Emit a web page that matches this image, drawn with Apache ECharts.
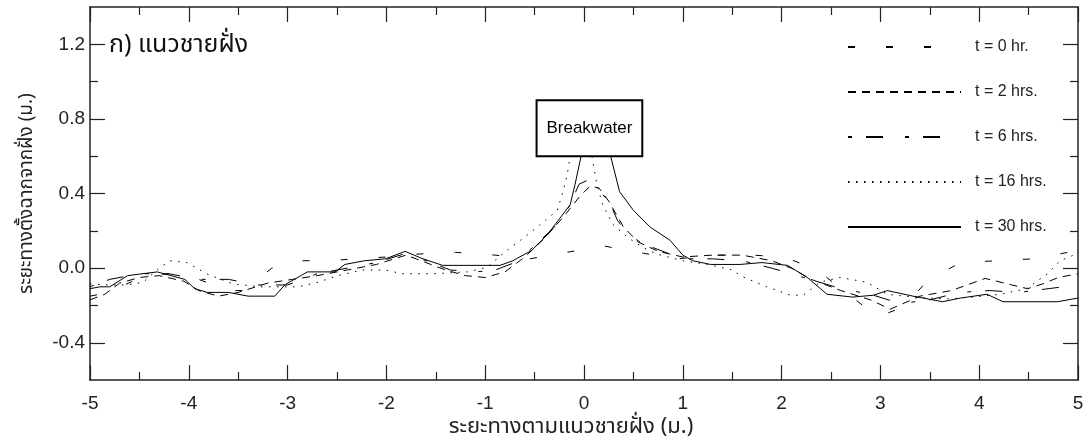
<!DOCTYPE html>
<html>
<head>
<meta charset="utf-8">
<script src="https://cdn.jsdelivr.net/npm/echarts@6/dist/echarts.min.js"></script>
<style>
  html, body { margin: 0; padding: 0; background: #fff; }
  #main { width: 1088px; height: 445px; }
</style>
</head>
<body>
<div id="main"></div>
<script>
  var font = "'Liberation Sans', Arial, 'Noto Sans', sans-serif";
  var thaiFont = "'Noto Sans Thai', 'Loma', 'Garuda', 'Liberation Sans', 'DejaVu Sans', sans-serif";

  // ระยะ x (ม.) , ระยะ y (ม.)
  var t0 = [[-5,-0.15],[-4.9,-0.14],[-4.65,-0.09],[-4.45,-0.04],[-4.2,-0.03],[-3.9,-0.06],[-3.6,-0.12],[-3.45,-0.12],
    [-3.16,0.0],[-2.9,0.04],[-2.6,0.04],[-2.3,0.05],[-2.0,0.06],[-1.7,0.075],[-1.3,0.085],[-0.9,0.07],[-0.55,0.05],
    [-0.17,0.085],[0.19,0.12],[0.6,0.08],[0.94,0.05],[1.38,0.07],[1.7,0.07],[2.03,0.06],[2.36,-0.01],[2.7,-0.15],
    [2.97,-0.26],[3.23,-0.21],[3.48,-0.065],[3.81,0.03],[4.18,0.04],[4.55,0.05],[4.9,0.085],[5,0.09]];

  var t2 = [[-5,-0.17],[-4.85,-0.14],[-4.7,-0.08],[-4.5,-0.05],[-4.3,-0.04],[-4.05,-0.07],[-3.9,-0.12],[-3.7,-0.15],
    [-3.5,-0.13],[-3.2,-0.08],[-2.95,-0.06],[-2.7,-0.04],[-2.4,-0.01],[-2.1,0.02],[-1.8,0.07],[-1.6,0.03],[-1.4,-0.01],
    [-1.2,-0.04],[-1.0,-0.05],[-0.8,-0.02],[-0.6,0.06],[-0.4,0.16],[-0.2,0.28],[-0.05,0.38],[0.06,0.44],[0.15,0.43],
    [0.25,0.36],[0.4,0.22],[0.55,0.14],[0.75,0.09],[1.0,0.06],[1.3,0.07],[1.6,0.07],[1.9,0.04],[2.1,0.0],[2.3,-0.06],
    [2.6,-0.12],[2.9,-0.17],[3.1,-0.22],[3.4,-0.15],[3.72,-0.12],[4.06,-0.055],[4.33,-0.09],[4.49,-0.11],[4.64,-0.085],
    [4.8,-0.05],[5,-0.03]];

  var t6 = [[-5,-0.1],[-4.8,-0.06],[-4.5,-0.03],[-4.2,-0.03],[-4.0,-0.05],[-3.9,-0.06],[-3.6,-0.06],[-3.3,-0.09],
    [-3.0,-0.09],[-2.7,-0.03],[-2.4,0.0],[-2.1,0.03],[-1.8,0.08],[-1.6,0.04],[-1.35,-0.01],[-1.1,-0.02],[-0.9,-0.01],
    [-0.7,0.03],[-0.5,0.12],[-0.3,0.22],[-0.15,0.33],[-0.05,0.45],[0.03,0.47],[0.15,0.42],[0.26,0.35],[0.34,0.255],
    [0.45,0.18],[0.6,0.13],[0.8,0.09],[1.0,0.05],[1.3,0.05],[1.6,0.04],[1.9,0.0],[2.1,-0.03],[2.35,-0.07],[2.6,-0.11],
    [2.9,-0.14],[3.2,-0.19],[3.5,-0.17],[3.8,-0.13],[4.1,-0.12],[4.4,-0.13],[4.7,-0.11],[5,-0.09]];

  var t16 = [[-5,-0.085],[-4.8,-0.09],[-4.63,-0.09],[-4.46,-0.075],[-4.3,0.0],[-4.19,0.04],[-4.02,0.03],[-3.82,-0.03],
    [-3.55,-0.085],[-3.26,-0.10],[-2.89,-0.10],[-2.69,-0.075],[-2.49,-0.04],[-2.25,-0.01],[-2.01,-0.01],[-1.84,-0.03],
    [-1.53,-0.03],[-1.18,-0.02],[-0.98,0.005],[-0.78,0.095],[-0.58,0.175],[-0.45,0.23],[-0.27,0.31],[-0.21,0.415],
    [-0.17,0.5],[-0.14,0.6],[-0.03,null],[0.08,0.6],[0.13,0.45],[0.19,0.34],[0.29,0.235],[0.44,0.165],[0.6,0.11],
    [0.74,0.075],[1.0,0.04],[1.25,0.02],[1.51,-0.01],[1.58,-0.04],[1.85,-0.10],[2.09,-0.145],[2.22,-0.145],[2.39,-0.075],
    [2.59,-0.05],[2.86,-0.075],[3.07,-0.14],[3.33,-0.155],[3.67,-0.165],[3.94,-0.155],[4.21,-0.14],[4.48,-0.11],
    [4.69,-0.03],[4.82,0.04],[5,0.08]];

  var t30 = [[-5,-0.11],[-4.9,-0.10],[-4.8,-0.10],[-4.62,-0.04],[-4.32,-0.02],[-4.04,-0.06],[-3.94,-0.11],[-3.81,-0.13],
    [-3.6,-0.13],[-3.4,-0.15],[-3.13,-0.15],[-3.03,-0.09],[-2.8,-0.02],[-2.52,-0.02],[-2.42,0.02],[-2.22,0.04],
    [-2.01,0.05],[-1.81,0.09],[-1.63,0.05],[-1.43,0.015],[-0.85,0.015],[-0.72,0.04],[-0.53,0.095],[-0.37,0.18],
    [-0.14,0.34],[-0.09,0.45],[-0.03,0.6],[0.12,null],[0.27,0.6],[0.36,0.41],[0.5,0.31],[0.67,0.22],[0.87,0.15],
    [1.0,0.07],[1.1,0.04],[1.28,0.02],[1.58,0.02],[1.8,0.03],[2.06,0.015],[2.26,-0.05],[2.46,-0.14],[2.72,-0.155],
    [2.93,-0.145],[3.07,-0.12],[3.33,-0.15],[3.63,-0.18],[3.81,-0.16],[4.08,-0.14],[4.24,-0.18],[4.79,-0.18],
    [4.95,-0.165],[5,-0.16]];

  var seriesNames = ['t = 0 hr.', 't = 2 hrs.', 't = 6 hrs.', 't = 16 hrs.', 't = 30 hrs.'];
  var seriesData = [t0, t2, t6, t16, t30];
  var dashTypes = [[7, 31], [8, 6], [4, 14, 17, 22], [1.5, 6.5], 'solid'];

  // กล่อง Breakwater (พิกัดข้อมูล)
  var breakwaterBox = [[-0.48, 0.9], [0.59, 0.6]];

  var yMajor = [-0.4, 0, 0.4, 0.8, 1.2];
  var yMinor = [-0.2, 0.2, 0.6, 1.0];

  var chartDom = document.getElementById('main');
  var chart = echarts.init(chartDom, null, { renderer: 'canvas' });

  function yAxisDef(pos, ticks, len, showLabel, showLine) {
    return {
      type: 'value', position: pos, min: -0.6, max: 1.4,
      axisLine: { show: showLine, onZero: false, lineStyle: { color: '#222', width: 1.5 } },
      axisTick: { show: true, inside: true, length: len, customValues: ticks, lineStyle: { color: '#222', width: 1.2 } },
      axisLabel: {
        show: showLabel, customValues: ticks, margin: 5,
        fontFamily: font, fontSize: 19, color: '#222',
        formatter: function (v) { return v.toFixed(1); }
      },
      splitLine: { show: false }
    };
  }

  function xAxisDef(pos, showLabel) {
    return {
      type: 'value', position: pos, min: -5, max: 5, interval: 1,
      axisLine: { show: true, onZero: false, lineStyle: { color: '#222', width: 1.5 } },
      axisTick: { show: true, inside: true, length: 15, lineStyle: { color: '#222', width: 1.2 } },
      minorTick: { show: true, splitNumber: 2, length: 8, lineStyle: { color: '#222', width: 1.2 } },
      axisLabel: { show: showLabel, margin: 14, fontFamily: font, fontSize: 19, color: '#222' },
      splitLine: { show: false }
    };
  }

  var series = seriesData.map(function (d, i) {
    var s = {
      name: seriesNames[i],
      type: 'line',
      data: d,
      symbol: 'none',
      connectNulls: false,
      animation: false,
      lineStyle: { color: '#000', width: 1, type: dashTypes[i] },
      itemStyle: { color: '#000' }
    };
    if (i === 4) {
      s.markArea = {
        silent: true,
        itemStyle: { color: '#fff', borderColor: '#000', borderWidth: 2 },
        label: { show: true, position: 'inside', color: '#000', fontFamily: font, fontSize: 17 },
        data: [[
          { name: 'Breakwater', coord: breakwaterBox[0] },
          { coord: breakwaterBox[1] }
        ]]
      };
    }
    return s;
  });

  var option = {
    backgroundColor: '#fff',
    animation: false,
    grid: { left: 90, right: 10, top: 7, bottom: 60 },
    title: {
      text: 'ก) แนวชายฝั่ง',
      left: 104, top: 29,
      textStyle: { fontFamily: thaiFont, fontSize: 25, fontWeight: 'normal', color: '#111' }
    },
    legend: {
      orient: 'vertical',
      left: 842, top: 34,
      itemWidth: 113, itemHeight: 14, itemGap: 29,
      data: seriesNames,
      itemStyle: { opacity: 0 },
      textStyle: { fontFamily: font, fontSize: 16, color: '#222', padding: [0, 0, 0, 9] }
    },
    xAxis: [
      Object.assign(xAxisDef('bottom', true), {
        name: 'ระยะทางตามแนวชายฝั่ง (ม.)',
        nameLocation: 'middle', nameGap: 35,
        nameTextStyle: { fontFamily: thaiFont, fontSize: 22, color: '#222', padding: [0, 26, 0, 0] }
      }),
      xAxisDef('top', false)
    ],
    yAxis: [
      Object.assign(yAxisDef('left', yMajor, 15, true, true), {
        name: 'ระยะทางตั้งฉากจากฝั่ง (ม.)',
        nameLocation: 'middle', nameGap: 52,
        nameTextStyle: { fontFamily: thaiFont, fontSize: 19, color: '#222' }
      }),
      yAxisDef('left', yMinor, 8, false, false),
      yAxisDef('right', yMajor, 15, false, true),
      yAxisDef('right', yMinor, 8, false, false)
    ],
    series: series
  };

  chart.setOption(option);
</script>
</body>
</html>
